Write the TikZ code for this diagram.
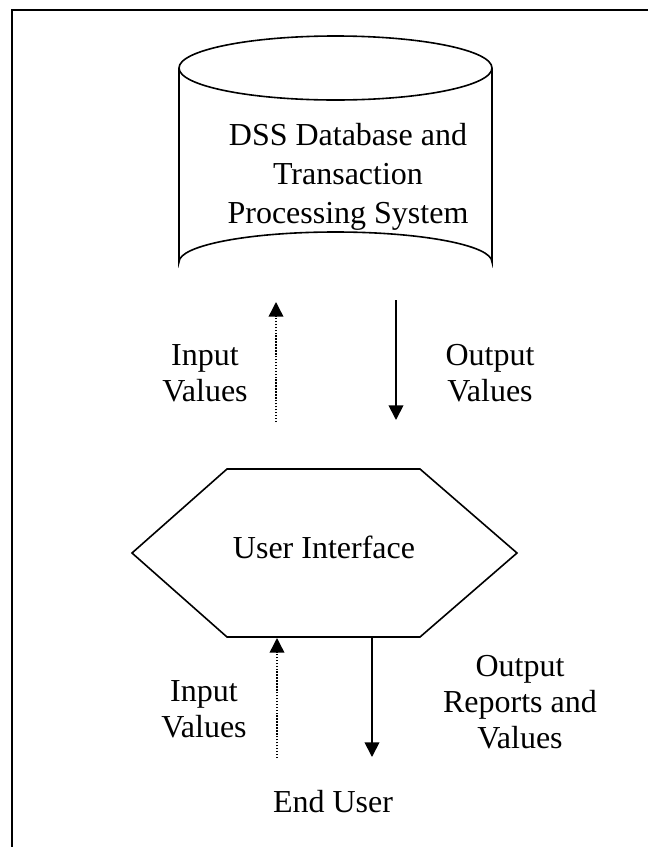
\documentclass[tikz,border=0pt]{standalone}
\usepackage{fontspec}
\setmainfont{Liberation Serif}
\usetikzlibrary{arrows.meta}
\begin{document}
\begin{tikzpicture}[x=0.75pt,y=-0.75pt,
  shapeline/.style={draw=black,line width=1.2pt},
  lbl/.style={font=\fontsize{24}{27}\selectfont,align=center,anchor=base,inner sep=0pt},
  solidarrow/.style={draw=black,line width=1.3pt,-{Triangle[length=11pt,width=11pt]}},
  dotarrow/.style={draw=black,line width=1.1pt,dash pattern=on 1.1pt off 1.1pt,-{Triangle[length=11pt,width=11pt]}}
]
\useasboundingbox (0,0) rectangle (648,847);
% frame
\draw[line width=1.6pt] (12,847) -- (12,10) -- (648,10);
% database cylinder
\draw[shapeline] (335.5,68) ellipse [x radius=156.5, y radius=32];
\draw[shapeline] (179,68) -- (179,262) arc[start angle=180,end angle=360,x radius=156.5,y radius=30] -- (492,68);
\node[lbl,font=\fontsize{24}{29}\selectfont] (db) at (348,223) {DSS Database and\\Transaction\\Processing System};
% user interface hexagon
\coordinate (hL) at (132,553);
\coordinate (hTL) at (227,469);
\coordinate (hTR) at (420,469);
\coordinate (hR) at (517,553);
\coordinate (hBR) at (420,637);
\coordinate (hBL) at (227,637);
\draw[shapeline] (hL) -- (hTL) -- (hTR) -- (hR) -- (hBR) -- (hBL) -- cycle;
\node[lbl] (ui) at (324,558) {User Interface};
% upper arrows
\coordinate (a1s) at (276,422);
\coordinate (a1e) at (276,302);
\coordinate (a2s) at (396,300);
\coordinate (a2e) at (396,420);
\draw[dotarrow] (a1s) -- (a1e);
\draw[solidarrow] (a2s) -- (a2e);
\node[lbl] (inval1) at (205,401) {Input\\Values};
\node[lbl] (outval1) at (490,401) {Output\\Values};
% lower arrows
\coordinate (b1s) at (277,758);
\coordinate (b1e) at (277,638);
\coordinate (b2s) at (372,637);
\coordinate (b2e) at (372,757);
\draw[dotarrow] (b1s) -- (b1e);
\draw[solidarrow] (b2s) -- (b2e);
\node[lbl] (inval2) at (204,737) {Input\\Values};
\node[lbl] (outrep) at (520,748) {Output\\Reports and\\Values};
\node[lbl] (user) at (333,812) {End User};
\end{tikzpicture}
\end{document}
